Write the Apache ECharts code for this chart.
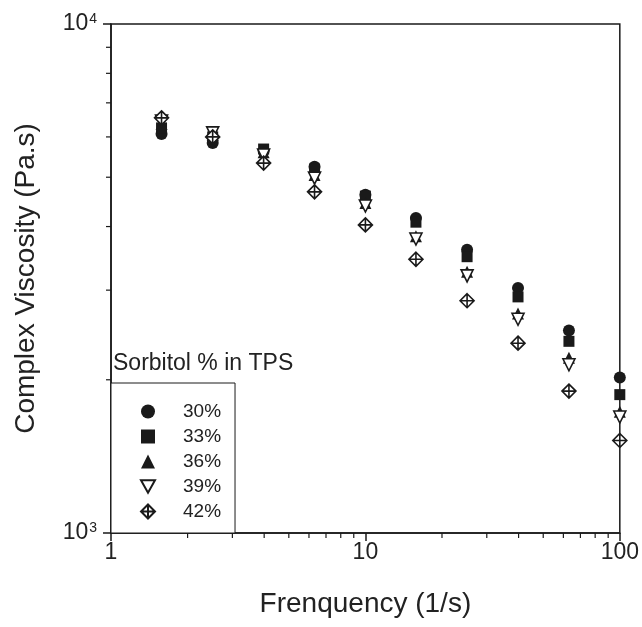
<!DOCTYPE html>
<html>
<head>
<meta charset="utf-8">
<script src="https://cdn.jsdelivr.net/npm/echarts@6/dist/echarts.min.js"></script>
<style>
  html, body { margin: 0; padding: 0; background: #fff; }
  #main { width: 642px; height: 627px; }
</style>
</head>
<body>
<div id="main"></div>
<script>
// frequencies (1/s)
var freq = [1.58, 2.51, 3.98, 6.31, 10, 15.8, 25.1, 39.8, 63.1, 100];
// complex viscosity (Pa.s) per sorbitol content
var s30 = [6080, 5840, 5630, 5240, 4620, 4160, 3600, 3030, 2500, 2020];
var s33 = [6250, 6000, 5680, 5190, 4590, 4080, 3490, 2910, 2380, 1870];
var s36 = [6360, 6050, 5600, 5050, 4450, 3830, 3260, 2700, 2210, 1730];
var s39 = [6450, 6110, 5530, 4980, 4390, 3780, 3200, 2630, 2140, 1690];
var s42 = [6540, 6000, 5330, 4680, 4030, 3450, 2860, 2360, 1900, 1520];
var names = ['30%', '33%', '36%', '39%', '42%'];
// minor tick positions
var xMinor = [2, 3, 4, 5, 6, 7, 8, 9, 20, 30, 40, 50, 60, 70, 80, 90];
var yMinor = [2000, 3000, 4000, 5000, 6000, 7000, 8000, 9000];

var myChart = echarts.init(document.getElementById('main'));

var font = 'Liberation Sans, Arial, sans-serif';
var ink = '#1a1a1a';

function pairs(ys) {
    return freq.map(function (x, i) { return [x, ys[i]]; });
}

var tickData = [];
xMinor.forEach(function (v) { tickData.push([v, 1000, 0]); });
yMinor.forEach(function (v) { tickData.push([1, v, 1]); });

var diamond = 'path://M0,-10L10,0L0,10L-10,0Z M0,-10L0,10 M-10,0L10,0';
var downTri = 'path://M-10,-9L10,-9L0,9Z';

var option = {
    backgroundColor: '#fff',
    textStyle: { fontFamily: font, color: '#222' },
    animation: false,
    title: {
        text: 'Sorbitol % in TPS',
        left: 113,
        top: 352,
        padding: 0,
        textStyle: { fontFamily: font, fontSize: 23, fontWeight: 'normal', color: '#222' }
    },
    legend: {
        orient: 'vertical',
        left: 111,
        top: 383,
        padding: [19, 14, 12, 29],
        itemWidth: 14,
        itemHeight: 14,
        itemGap: 6,
        borderColor: ink,
        borderWidth: 1,
        backgroundColor: '#fff',
        data: names,
        textStyle: { fontFamily: font, fontSize: 19, color: '#222', padding: [0, 0, 0, 23] }
    },
    grid: {
        left: 111, right: 20, top: 24, bottom: 94,
        show: true,
        borderColor: ink,
        borderWidth: 1.5
    },
    xAxis: {
        type: 'log',
        logBase: 10,
        min: 1,
        max: 100,
        name: 'Frenquency (1/s)',
        nameLocation: 'middle',
        nameGap: 57,
        nameTextStyle: { fontFamily: font, fontSize: 28, color: '#222' },
        axisLine: { lineStyle: { color: ink, width: 1.5 } },
        axisTick: { inside: false, length: 8, lineStyle: { color: ink, width: 1.5 } },
        axisLabel: { margin: 8, fontSize: 23, color: '#222', fontFamily: font },
        splitLine: { show: false }
    },
    yAxis: {
        type: 'log',
        logBase: 10,
        min: 1000,
        max: 10000,
        name: 'Complex Viscosity (Pa.s)',
        nameLocation: 'middle',
        nameGap: 71,
        nameTextStyle: { fontFamily: font, fontSize: 28, color: '#222' },
        axisLine: { lineStyle: { color: ink, width: 1.5 } },
        axisTick: { inside: false, length: 8, lineStyle: { color: ink, width: 1.5 } },
        axisLabel: {
            margin: 14,
            color: '#222',
            formatter: function (v) {
                return '{b|10}{s|' + Math.round(Math.log10(v)) + '}';
            },
            rich: {
                b: { fontSize: 23, fontFamily: font, color: '#222' },
                s: { fontSize: 14, fontFamily: font, color: '#222', padding: [0, 0, 10, 1] }
            }
        },
        splitLine: { show: false }
    },
    series: [
        {
            type: 'custom',
            silent: true,
            clip: false,
            z: 1,
            data: tickData,
            renderItem: function (params, api) {
                var p = api.coord([api.value(0), api.value(1)]);
                var line = api.value(2) === 0
                    ? { x1: p[0], y1: p[1], x2: p[0], y2: p[1] + 5 }
                    : { x1: p[0] - 5, y1: p[1], x2: p[0], y2: p[1] };
                return { type: 'line', shape: line, style: { stroke: ink, lineWidth: 1.2 } };
            }
        },
        {
            name: names[0], type: 'scatter', data: pairs(s30),
            symbol: 'circle', symbolSize: 12,
            itemStyle: { color: ink, opacity: 1 }
        },
        {
            name: names[1], type: 'scatter', data: pairs(s33),
            symbol: 'rect', symbolSize: 11,
            itemStyle: { color: ink, opacity: 1 }
        },
        {
            name: names[2], type: 'scatter', data: pairs(s36),
            symbol: 'triangle', symbolSize: 12,
            itemStyle: { color: ink, opacity: 1 }
        },
        {
            name: names[3], type: 'scatter', data: pairs(s39),
            symbol: downTri, symbolSize: 12,
            itemStyle: { color: '#fff', borderColor: ink, borderWidth: 1.6, opacity: 1 }
        },
        {
            name: names[4], type: 'scatter', data: pairs(s42),
            symbol: diamond, symbolSize: 14,
            itemStyle: { color: '#fff', borderColor: ink, borderWidth: 1.6, opacity: 1 }
        }
    ]
};

myChart.setOption(option);
</script>
</body>
</html>
